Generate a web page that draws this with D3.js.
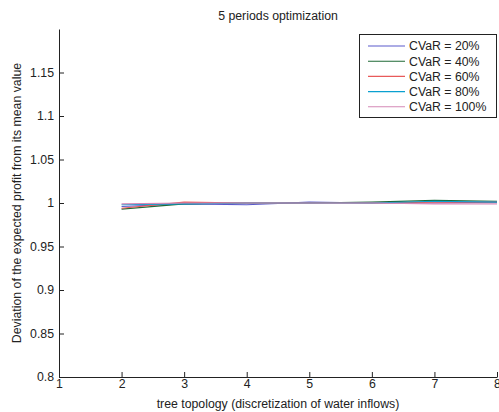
<!DOCTYPE html>
<html>
<head>
<meta charset="utf-8">
<script src="https://cdn.jsdelivr.net/npm/d3@7"></script>
<style>
  html, body { margin: 0; padding: 0; background: #fff; }
  svg { display: block; font-family: "Liberation Sans", Arial, Helvetica, sans-serif; }
</style>
</head>
<body>
<svg id="chart" width="499" height="412"></svg>
<script>
// Tree topology (discretization level) on the x axis
const topology = [2, 3, 4, 5, 6, 7, 8];

// Deviation of the expected profit from its mean, one series per CVaR level
const cvar20  = [0.996, 0.999, 0.998, 1.001, 1.000, 1.000, 1.001];
const cvar40  = [0.993, 0.999, 1.000, 1.000, 1.001, 1.003, 1.002];
const cvar60  = [0.994, 1.001, 1.000, 1.000, 1.000, 1.001, 1.001];
const cvar80  = [0.998, 0.999, 1.000, 1.000, 1.000, 1.002, 1.001];
const cvar100 = [0.999, 1.000, 1.000, 1.000, 1.000, 0.999, 0.999];

const seriesNames = ["CVaR = 20%", "CVaR = 40%", "CVaR = 60%", "CVaR = 80%", "CVaR = 100%"];
const seriesColors = ["#5a5acb", "#1f6a36", "#e85a5a", "#0aa0d0", "#d488b6"];

const xTicks = [1, 2, 3, 4, 5, 6, 7, 8];
const yTicks = [0.8, 0.85, 0.9, 0.95, 1, 1.05, 1.1, 1.15];

const allSeries = [cvar20, cvar40, cvar60, cvar80, cvar100];

const svg = d3.select("#chart");
const plotLeft = 59, plotRight = 497, plotTop = 29, plotBottom = 377;

const x = d3.scaleLinear().domain([1, 8]).range([plotLeft, plotRight]);
const y = d3.scaleLinear().domain([0.8, 1.2]).range([plotBottom, plotTop]);

const fontSize = 12.3;

// Data lines
const line = d3.line().x((d, i) => x(topology[i])).y(d => y(d));
allSeries.forEach((vals, k) => {
  svg.append("path")
    .datum(vals)
    .attr("d", line)
    .attr("fill", "none")
    .attr("stroke", seriesColors[k])
    .attr("stroke-width", 1.1);
});

// Axes with inward ticks
const xAxis = d3.axisBottom(x).tickValues(xTicks).tickFormat(d3.format("d")).tickSizeInner(-5).tickSizeOuter(0).tickPadding(4);
const gx = svg.append("g").attr("transform", `translate(0,${plotBottom})`).call(xAxis);

const yAxis = d3.axisLeft(y).tickValues(yTicks).tickFormat(d => String(+d.toFixed(2))).tickSizeInner(-5).tickSizeOuter(0).tickPadding(5);
const gy = svg.append("g").attr("transform", `translate(${plotLeft},0)`).call(yAxis);

[gx, gy].forEach(g => {
  g.selectAll("path.domain").attr("stroke", "#222").attr("stroke-width", 1);
  g.selectAll(".tick line").attr("stroke", "#222");
  g.selectAll(".tick text").attr("fill", "#222").style("font-size", fontSize + "px").style("font-family", "Liberation Sans, Arial, sans-serif");
});
gx.selectAll(".tick text").attr("dy", "0.55em");

// Title and axis labels
svg.append("text")
  .attr("x", (plotLeft + plotRight) / 2).attr("y", 19.5)
  .attr("text-anchor", "middle").attr("fill", "#222")
  .style("font-size", fontSize + "px")
  .text("5 periods optimization");

svg.append("text")
  .attr("x", (plotLeft + plotRight) / 2).attr("y", 407.5)
  .attr("text-anchor", "middle").attr("fill", "#222")
  .style("font-size", fontSize + "px")
  .text("tree topology (discretization of water inflows)");

svg.append("text")
  .attr("transform", `translate(21,${(plotTop + plotBottom) / 2}) rotate(-90)`)
  .attr("text-anchor", "middle").attr("fill", "#222")
  .style("font-size", fontSize + "px")
  .text("Deviation of the expected profit from its mean value");

// Legend
const legend = svg.append("g");
legend.append("rect")
  .attr("x", 359.5).attr("y", 34.5).attr("width", 137).attr("height", 83)
  .attr("fill", "#fff").attr("stroke", "#222").attr("stroke-width", 1);
seriesNames.forEach((name, k) => {
  const yy = 46 + k * 15.2;
  legend.append("line")
    .attr("x1", 368).attr("x2", 405).attr("y1", yy).attr("y2", yy)
    .attr("stroke", seriesColors[k]).attr("stroke-width", 1.1);
  legend.append("text")
    .attr("x", 409).attr("y", yy + 4.3)
    .attr("fill", "#222")
    .style("font-size", fontSize + "px")
    .text(name);
});
</script>
</body>
</html>
